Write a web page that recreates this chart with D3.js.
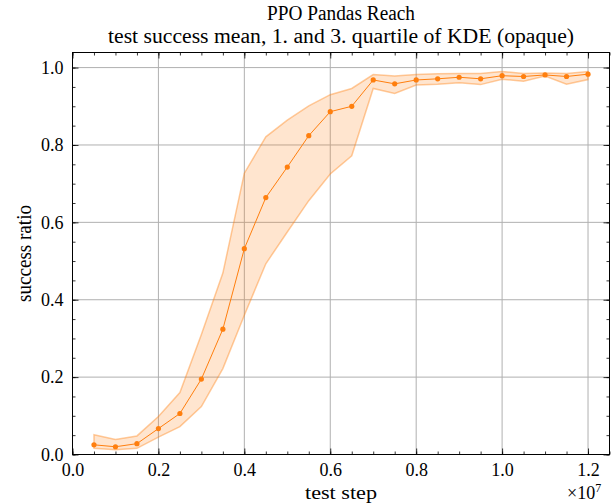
<!DOCTYPE html>
<html>
<head>
<meta charset="utf-8">
<script src="https://cdn.jsdelivr.net/npm/d3@7"></script>
<style>
  html, body { margin: 0; padding: 0; background: #fff; }
  text { font-family: "Liberation Serif", "Times New Roman", serif; fill: #000; }
</style>
</head>
<body>
<svg id="chart" width="611" height="503"></svg>
<script>
// ---- data ----
const steps = [0.05e7, 0.10e7, 0.15e7, 0.20e7, 0.25e7, 0.30e7, 0.35e7, 0.40e7, 0.45e7, 0.50e7, 0.55e7, 0.60e7,
               0.65e7, 0.70e7, 0.75e7, 0.80e7, 0.85e7, 0.90e7, 0.95e7, 1.00e7, 1.05e7, 1.10e7, 1.15e7, 1.20e7];
const meanSuccess = [0.025, 0.020, 0.028, 0.067, 0.106, 0.195, 0.324, 0.532, 0.664, 0.743, 0.824, 0.886,
                     0.900, 0.968, 0.958, 0.968, 0.971, 0.975, 0.971, 0.979, 0.977, 0.981, 0.977, 0.983];
const q1Success = [0.016, 0.012, 0.016, 0.045, 0.072, 0.124, 0.222, 0.360, 0.493, 0.575, 0.656, 0.725,
                   0.772, 0.946, 0.933, 0.955, 0.957, 0.961, 0.956, 0.970, 0.965, 0.978, 0.957, 0.969];
const q3Success = [0.051, 0.039, 0.048, 0.098, 0.160, 0.310, 0.469, 0.727, 0.821, 0.864, 0.901, 0.930,
                   0.946, 0.982, 0.978, 0.982, 0.984, 0.985, 0.985, 0.990, 0.985, 0.986, 0.985, 0.990];
const xTicks = [0, 0.2e7, 0.4e7, 0.6e7, 0.8e7, 1.0e7, 1.2e7];
const yTicks = [0, 0.2, 0.4, 0.6, 0.8, 1.0];
const titleLines = ["PPO Pandas Reach", "test success mean, 1. and 3. quartile of KDE (opaque)"];

// ---- layout ----
const L = 72.5, R = 609.5, T = 52.5, B = 454.5;
const svg = d3.select("#chart");
const x = d3.scaleLinear().domain([0, 1.25e7]).range([L, R]);
const y = d3.scaleLinear().domain([0, 1.039]).range([B, T]);
const orange = "#ff7f0e";
const cx = (L + R) / 2, cy = (T + B) / 2;

const data = steps.map((s, i) => ({ s, m: meanSuccess[i], lo: q1Success[i], hi: q3Success[i] }));

// grid
const grid = svg.append("g");
grid.selectAll(".gx").data(xTicks).join("line")
  .attr("x1", d => x(d)).attr("x2", d => x(d)).attr("y1", T).attr("y2", B)
  .attr("stroke", "#b0b0b0").attr("stroke-width", 1);
grid.selectAll(".gy").data(yTicks).join("line")
  .attr("x1", L).attr("x2", R).attr("y1", d => y(d)).attr("y2", d => y(d))
  .attr("stroke", "#b0b0b0").attr("stroke-width", 1);

// band
const area = d3.area().x(d => x(d.s)).y0(d => y(d.lo)).y1(d => y(d.hi));
svg.append("path").datum(data).attr("d", area)
  .attr("fill", orange).attr("fill-opacity", 0.2)
  .attr("stroke", orange).attr("stroke-opacity", 0.4).attr("stroke-width", 1.5);

// mean line
const line = d3.line().x(d => x(d.s)).y(d => y(d.m));
svg.append("path").datum(data).attr("d", line)
  .attr("fill", "none").attr("stroke", orange).attr("stroke-width", 1);
svg.selectAll(".pt").data(data).join("circle")
  .attr("cx", d => x(d.s)).attr("cy", d => y(d.m)).attr("r", 2.6).attr("fill", orange);

// axes with inward ticks
const tickFont = "18px";
function drawAxis(axis, transform) {
  const g = svg.append("g").attr("transform", transform).call(axis);
  g.select(".domain").remove();
  return g;
}
const xMinor = d3.range(0, 1.2501e7, 0.05e7);
const yMinor = d3.range(0, 1.04, 0.05);

// bottom
const gb = drawAxis(d3.axisBottom(x).tickValues(xTicks).tickFormat(d => (d / 1e7).toFixed(1)).tickSizeInner(-6).tickPadding(8), `translate(0,${B})`);
gb.selectAll("text").style("font-size", tickFont).attr("dy", "0.75em");
drawAxis(d3.axisBottom(x).tickValues(xMinor).tickFormat("").tickSizeInner(-3), `translate(0,${B})`);
// top
drawAxis(d3.axisTop(x).tickValues(xTicks).tickFormat("").tickSizeInner(-6), `translate(0,${T})`);
drawAxis(d3.axisTop(x).tickValues(xMinor).tickFormat("").tickSizeInner(-3), `translate(0,${T})`);
// left
const gl = drawAxis(d3.axisLeft(y).tickValues(yTicks).tickFormat(d3.format(".1f")).tickSizeInner(-6).tickPadding(9), `translate(${L},0)`);
gl.selectAll("text").style("font-size", tickFont);
drawAxis(d3.axisLeft(y).tickValues(yMinor).tickFormat("").tickSizeInner(-3), `translate(${L},0)`);
// right
drawAxis(d3.axisRight(y).tickValues(yTicks).tickFormat("").tickSizeInner(-6), `translate(${R},0)`);
drawAxis(d3.axisRight(y).tickValues(yMinor).tickFormat("").tickSizeInner(-3), `translate(${R},0)`);
svg.selectAll(".tick line").attr("stroke", "#000").attr("stroke-width", 0.8);

// frame
svg.append("rect").attr("x", L).attr("y", T).attr("width", R - L).attr("height", B - T)
  .attr("fill", "none").attr("stroke", "#000").attr("stroke-width", 1);

// labels
svg.append("text").attr("x", cx).attr("y", 20).attr("text-anchor", "middle")
  .style("font-size", "20px").attr("textLength", 148).attr("lengthAdjust", "spacingAndGlyphs").text(titleLines[0]);
svg.append("text").attr("x", cx).attr("y", 43).attr("text-anchor", "middle")
  .style("font-size", "20px").attr("textLength", 466).attr("lengthAdjust", "spacingAndGlyphs").text(titleLines[1]);
svg.append("text").attr("x", cx).attr("y", 499).attr("text-anchor", "middle")
  .style("font-size", "19px").attr("textLength", 72).attr("lengthAdjust", "spacingAndGlyphs").text("test step");
svg.append("text").attr("transform", `translate(31,${cy}) rotate(-90)`).attr("text-anchor", "middle")
  .style("font-size", "20px").attr("textLength", 97).attr("lengthAdjust", "spacingAndGlyphs").text("success ratio");
const sci = svg.append("text").attr("x", 567).attr("y", 499).style("font-size", "18px");
sci.append("tspan").text("×10");
sci.append("tspan").attr("dy", -7).style("font-size", "12px").text("7");
</script>
</body>
</html>
